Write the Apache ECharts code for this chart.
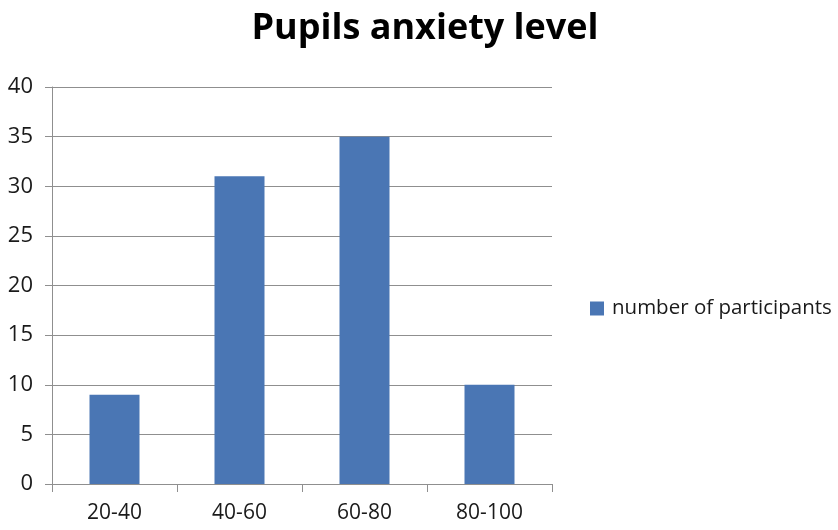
<!DOCTYPE html>
<html><head><meta charset="utf-8">
<script src="https://cdn.jsdelivr.net/npm/echarts@6/dist/echarts.min.js"></script>
<style>html,body{margin:0;padding:0;background:#fff}#c{width:838px;height:530px}</style>
</head><body><div id="c"></div>
<script>
var categories = ["20-40", "40-60", "60-80", "80-100"];
var participants = [9, 31, 35, 10];
var seriesName = "number of participants";
var titleText = "Pupils anxiety level";

var chart = echarts.init(document.getElementById('c'), null, {renderer: 'canvas'});
var axisGrey = '#8f8f8f';
var font = '"Open Sans", "Liberation Sans", sans-serif';
chart.setOption({
  animation: false,
  backgroundColor: '#fff',
  title: {
    text: titleText, left: 420, top: 6, textAlign: 'center',
    textStyle: {fontFamily: font, fontSize: 36, fontWeight: 'bold', color: '#000'}
  },
  legend: {
    orient: 'vertical', left: 585, top: 293,
    itemWidth: 14, itemHeight: 14, itemGap: 6,
    icon: 'rect',
    textStyle: {fontFamily: font, fontSize: 20.5, color: '#1a1a1a', padding: [0,0,0,3]},
    data: [seriesName]
  },
  grid: {left: 52, right: 286, top: 87, bottom: 46, containLabel: false},
  xAxis: {
    type: 'category', data: categories,
    axisLine: {show: true, lineStyle: {color: axisGrey, width: 1}},
    axisTick: {show: true, length: 8, alignWithLabel: false, lineStyle: {color: axisGrey}},
    axisLabel: {fontFamily: font, fontSize: 21, color: '#1a1a1a', margin: 19},
    splitLine: {show: false}
  },
  yAxis: {
    type: 'value', min: 0, max: 40, interval: 5,
    axisLine: {show: true, lineStyle: {color: axisGrey, width: 1}},
    axisTick: {show: true, length: 7, lineStyle: {color: axisGrey}},
    axisLabel: {fontFamily: font, fontSize: 22, color: '#1a1a1a', margin: 19},
    splitLine: {show: true, lineStyle: {color: axisGrey, width: 1}}
  },
  series: [{
    name: seriesName, type: 'bar', data: participants,
    barWidth: '40%',
    itemStyle: {color: '#4a76b4'}
  }]
});
</script></body></html>
